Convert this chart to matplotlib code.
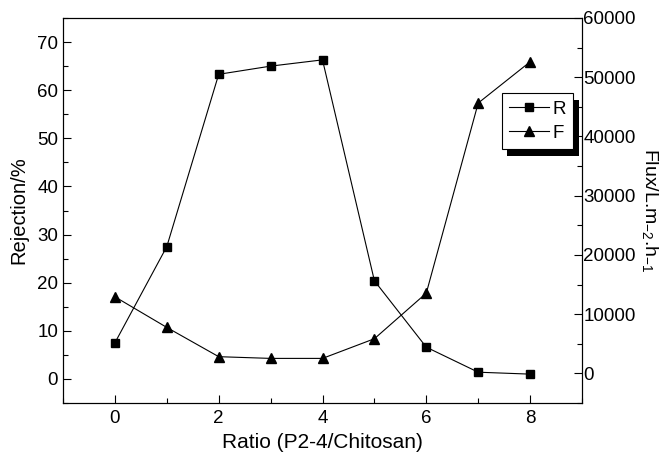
import matplotlib
matplotlib.use("Agg")
import matplotlib.pyplot as plt
from matplotlib.ticker import MultipleLocator
import matplotlib.patheffects as pe

plt.rcParams['font.family'] = ['Liberation Sans', 'DejaVu Sans']
plt.rcParams['mathtext.default'] = 'regular'

ratio = [0, 1, 2, 3, 4, 5, 6, 7, 8]
rejection = [7.5, 27.5, 63.3, 65.0, 66.3, 20.4, 6.6, 1.4, 1.0]
flux = [12930, 7760, 2820, 2530, 2530, 5850, 13550, 45640, 52600]

fig = plt.figure(figsize=(6.67, 4.55), dpi=100)
ax = fig.add_axes([63/667, 1-403/455, (582-63)/667, (403-18)/455])
ax2 = ax.twinx()

lr, = ax.plot(ratio, rejection, color='k', lw=0.8, marker='s', ms=6, label='R')
lf, = ax2.plot(ratio, flux, color='k', lw=0.8, marker='^', ms=7, label='F')

ax.set_xlim(-1, 9)
ax.set_ylim(-5, 75)
ax2.set_ylim(-5000, 60000)

ax.xaxis.set_major_locator(MultipleLocator(2))
ax.xaxis.set_minor_locator(MultipleLocator(1))
ax.yaxis.set_major_locator(MultipleLocator(10))
ax.yaxis.set_minor_locator(MultipleLocator(5))
ax2.yaxis.set_major_locator(MultipleLocator(10000))
ax2.yaxis.set_minor_locator(MultipleLocator(5000))

for a in (ax, ax2):
    a.tick_params(which='major', direction='in', length=6, width=0.8, labelsize=13.5)
    a.tick_params(which='minor', direction='in', length=3.5, width=0.8)
    for s in a.spines.values():
        s.set_linewidth(0.8)
ax.tick_params(top=False, right=False, which='both')
ax.tick_params(axis='y', which='major', pad=3.5)
ax.tick_params(axis='x', which='major', pad=5)
ax2.tick_params(axis='y', which='major', pad=1.0)

ax.set_xlabel('Ratio (P2-4/Chitosan)', fontsize=15, labelpad=4)
ax.set_ylabel('Rejection/%', fontsize=14.5, labelpad=6)
ax2.set_ylabel('Flux/L.m$_{-2}$.h$_{-1}$', fontsize=14, rotation=270, labelpad=17)

leg = ax2.legend(handles=[lr, lf], loc='upper left', bbox_to_anchor=(501.7/667, 1-93.3/455),
                 bbox_transform=fig.transFigure, fontsize=13.5, frameon=True, fancybox=False,
                 edgecolor='k', handlelength=2.1, handletextpad=0.2, borderpad=0.4,
                 labelspacing=0.35, borderaxespad=0, framealpha=1)
leg.get_frame().set_linewidth(0.8)
leg.get_frame().set_path_effects([
    pe.SimplePatchShadow(offset=(4, -5), shadow_rgbFace='k', alpha=1),
    pe.Normal()])

fig.savefig('out.png', dpi=100)
